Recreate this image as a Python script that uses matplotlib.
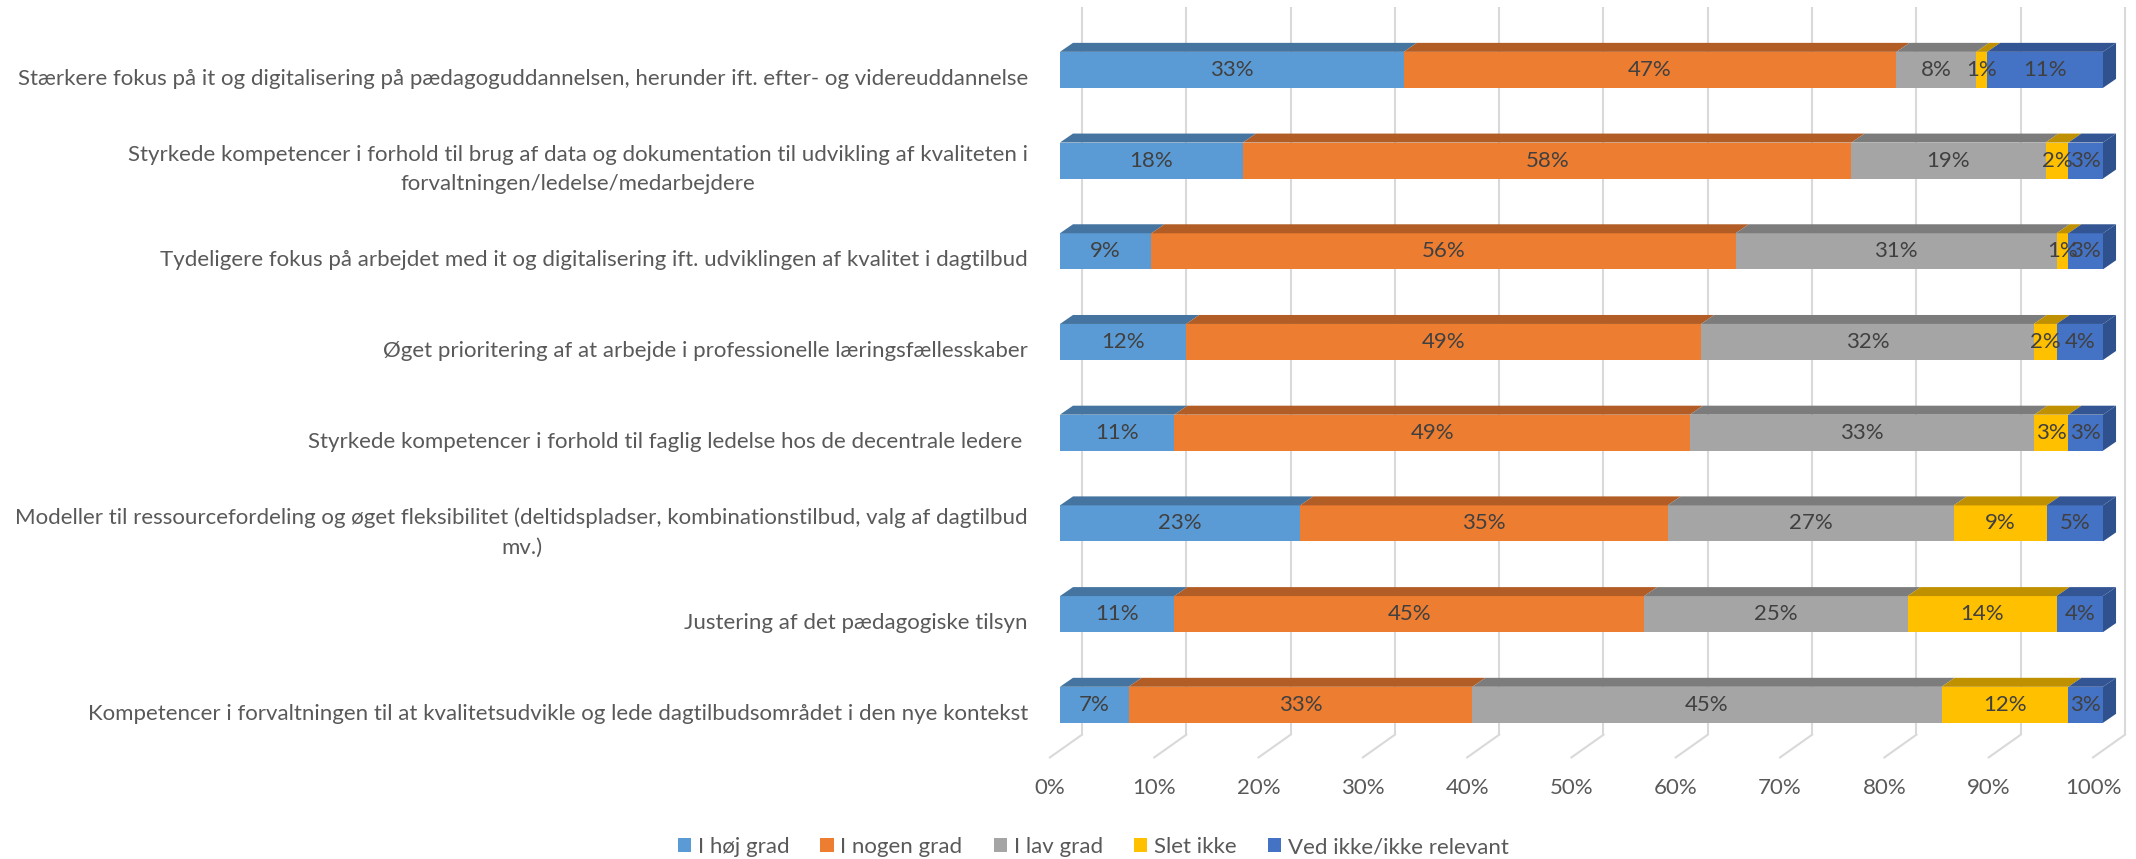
import matplotlib.pyplot as plt
from matplotlib.patches import Polygon, Rectangle, Patch

plt.rcParams['font.family'] = ['Lato', 'DejaVu Sans']

categorias = [
    "Stærkere fokus på it og digitalisering på pædagoguddannelsen, herunder ift. efter- og videreuddannelse",
    "Styrkede kompetencer i forhold til brug af data og dokumentation til udvikling af kvaliteten i\nforvaltningen/ledelse/medarbejdere",
    "Tydeligere fokus på arbejdet med it og digitalisering ift. udviklingen af kvalitet i dagtilbud",
    "Øget prioritering af at arbejde i professionelle læringsfællesskaber",
    "Styrkede kompetencer i forhold til faglig ledelse hos de decentrale ledere ",
    "Modeller til ressourcefordeling og øget fleksibilitet (deltidspladser, kombinationstilbud, valg af dagtilbud\nmv.)",
    "Justering af det pædagogiske tilsyn",
    "Kompetencer i forvaltningen til at kvalitetsudvikle og lede dagtilbudsområdet i den nye kontekst",
]
serier = ["I høj grad", "I nogen grad", "I lav grad", "Slet ikke", "Ved ikke/ikke relevant"]

# procent pr. svarkategori, en værdi pr. række (top -> bund)
hoj_grad = [32.96, 17.54, 8.77, 12.1, 10.96, 23.0, 10.96, 6.58]
nogen_grad = [47.24, 58.34, 56.0, 49.4, 49.4, 35.2, 45.05, 32.96]
lav_grad = [7.64, 18.6, 30.76, 31.9, 33.0, 27.4, 25.25, 44.98]
slet_ikke = [1.06, 2.19, 1.13, 2.2, 3.26, 8.9, 14.29, 12.16]
ved_ikke = [11.1, 3.32, 3.32, 4.45, 3.32, 5.4, 4.45, 3.32]

farver = ["#5B9BD5", "#ED7D31", "#A5A5A5", "#FFC000", "#4472C4"]
farver_top = ["#44749F", "#B25D25", "#7C7C7C", "#BF9000", "#335593"]
tekst_farve = "#595959"
label_farve = "#404040"
fs = 16

# 3d-effekt (dybde i data-enheder)
bar_dx, bar_dy = 0.0125, 0.099
wall_dx = 0.0211
floor_dx, floor_dy = -0.0307, 0.25
bar_h = 0.397

fig = plt.figure(figsize=(21.36, 8.59), dpi=100)
ax = fig.add_axes([0.4767, 0.0, 0.5225, 1.0])
ax.set_xlim(-0.04, 1.03)
ax.set_ylim(8.7, -0.77)
ax.axis("off")

#gitterlinjer på bagvæggen og gulvet
y_top, y_floor = -0.695, 7.33
for k in range(11):
    v = k / 10
    xb = v + wall_dx
    ax.plot([xb, xb], [y_top, y_floor], color="#D9D9D9", lw=1.5, zorder=0, solid_capstyle="butt")
    ax.plot([xb, xb + floor_dx], [y_floor, y_floor + floor_dy], color="#D9D9D9", lw=1.5, zorder=0)
    ax.text(xb + floor_dx, 7.92, f"{k * 10}%", ha="center", va="center", fontsize=fs, color=tekst_farve)

data = [hoj_grad, nogen_grad, lav_grad, slet_ikke, ved_ikke]
for i, navn in enumerate(categorias):
    rad = [s[i] for s in data]
    total = sum(rad)
    venstre = 0.0
    y0 = i - bar_h / 2
    y1 = i + bar_h / 2
    for j, val in enumerate(rad):
        w = val / total
        h = venstre + w
        ax.add_patch(Rectangle((venstre, y0), w, bar_h, facecolor=farver[j], edgecolor="none", zorder=2))
        ax.add_patch(Polygon([(venstre, y0), (h, y0), (h + bar_dx, y0 - bar_dy), (venstre + bar_dx, y0 - bar_dy)],
                             closed=True, facecolor=farver_top[j], edgecolor="none", zorder=2))
        ax.text(venstre + w / 2, i, f"{val:.0f}%", ha="center", va="center", fontsize=fs, color=label_farve, zorder=5)
        venstre = h
    #sideflade i højre ende
    ax.add_patch(Polygon([(venstre, y0), (venstre + bar_dx, y0 - bar_dy), (venstre + bar_dx, y1 - bar_dy), (venstre, y1)],
                         closed=True, facecolor="#2F528F", edgecolor="none", zorder=2))
    ax.text(-0.0307, i + 0.1, navn, ha="right", va="center", multialignment="center",
            fontsize=fs, color=tekst_farve, linespacing=1.6)

handles = [Patch(facecolor=c, edgecolor="none") for c in farver]
fig.legend(handles, serier, loc="center", bbox_to_anchor=(1093 / 2136, 1 - 847 / 859), ncol=5,
           frameon=False, fontsize=fs, labelcolor=tekst_farve, handlelength=0.6, handleheight=0.6,
           handletextpad=0.3, columnspacing=1.4)

fig.savefig("out.png", dpi=100)
